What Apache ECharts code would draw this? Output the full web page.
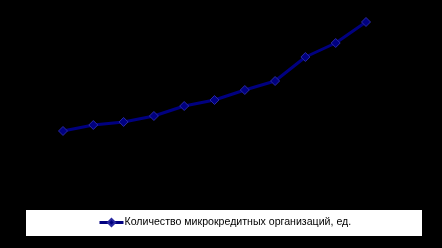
<!DOCTYPE html>
<html><head><meta charset="utf-8">
<script src="https://cdn.jsdelivr.net/npm/echarts@6/dist/echarts.min.js"></script>
<style>html,body{margin:0;padding:0;background:#000}#c{width:442px;height:248px}</style>
</head><body><div id="c"></div>
<script>
const categories = ['2011','2012','2013','2014','2015','2016','2017','2018','2019','2020','2021'];
const seriesName = 'Количество микрокредитных организаций, ед.';
const values = [1356, 1489, 1556, 1689, 1911, 2044, 2267, 2467, 3000, 3311, 3778];
const yMin = 0, yMax = 4000;

const chart = echarts.init(document.getElementById('c'), null, {renderer: 'canvas'});
chart.setOption({
  backgroundColor: '#000000',
  animation: false,
  graphic: [{
    type: 'rect', left: 26, top: 210, z: 0,
    shape: {width: 396, height: 26},
    style: {fill: '#ffffff'}
  }],
  grid: {left: 63, right: 76, top: 12, bottom: 56},
  xAxis: {
    type: 'category', data: categories, boundaryGap: false,
    axisLine: {show: false}, axisTick: {show: false}, axisLabel: {show: false}, splitLine: {show: false}
  },
  yAxis: {
    type: 'value', min: yMin, max: yMax,
    axisLine: {show: false}, axisTick: {show: false}, axisLabel: {show: false}, splitLine: {show: false}
  },
  legend: {
    data: [seriesName],
    left: 93, top: 212, z: 10,
    itemWidth: 24, itemHeight: 9, itemGap: 4,
    lineStyle: {width: 3},
    textStyle: {fontFamily: 'Liberation Sans, Arial', fontSize: 10.6, color: '#000000', padding: [0,0,0,-4]}
  },
  series: [{
    name: seriesName, type: 'line', data: values,
    symbol: 'diamond', symbolSize: 9,
    lineStyle: {color: '#000080', width: 3},
    itemStyle: {color: '#000080', borderColor: '#2a2aa0', borderWidth: 1}
  }]
});
</script></body></html>
